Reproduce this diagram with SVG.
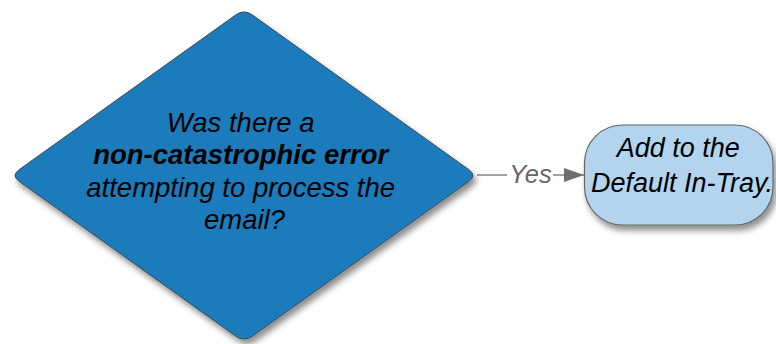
<svg xmlns="http://www.w3.org/2000/svg" width="776" height="344" viewBox="0 0 776 344">
  <style>
    .lbl { font-family: "Liberation Sans", Arial, sans-serif; font-style: italic; fill: #000; text-anchor: middle; }
    .b { font-weight: bold; }
    .edge { stroke: #6e6e6e; stroke-width: 1.3; fill: none; }
    .elbl { font-family: "Liberation Sans", Arial, sans-serif; font-style: italic; fill: #666; font-size: 25.5px; text-anchor: middle; }
  </style>
  <defs>
    <filter id="sh" x="-10%" y="-10%" width="130%" height="130%">
      <feDropShadow dx="3" dy="5" stdDeviation="3" flood-color="#000" flood-opacity="0.45"/>
    </filter>
    <marker id="arr" markerWidth="20" markerHeight="14" refX="20" refY="7" orient="auto" markerUnits="userSpaceOnUse">
      <path d="M0,0 L20,7 L0,14 Z" fill="#6e6e6e"/>
    </marker>
  </defs>
  <rect width="776" height="344" fill="#fff"/>
  <g id="connectors">
    <line class="edge" x1="477" y1="175" x2="507" y2="175"/>
    <line class="edge" x1="553" y1="175" x2="584" y2="175" marker-end="url(#arr)"/>
    <text class="elbl" x="530.5" y="183">Yes</text>
  </g>
  <g id="decision">
    <path d="M 235.87,14.83 Q 244,9 252.13,14.83 L 468.87,169.67 Q 477,175.5 468.87,181.33 L 252.13,336.17 Q 244,342 235.87,336.17 L 19.13,181.33 Q 11,175.5 19.13,169.67 Z" fill="#1a7bbb" stroke="#3a4a58" stroke-width="1" filter="url(#sh)"/>
    <text class="lbl" font-size="27.5">
      <tspan x="244.5" y="131.5">Was there a</tspan>
      <tspan x="244.5" y="164" class="b">non-catastrophic error</tspan>
      <tspan x="244.5" y="196.5">attempting to process the</tspan>
      <tspan x="244.5" y="229">email?</tspan>
    </text>
  </g>
  <g id="action">
    <rect x="584.5" y="125" width="188.5" height="100" rx="38" ry="38" fill="#b3d4ee" stroke="#666" stroke-width="1.2" filter="url(#sh)"/>
    <text class="lbl" font-size="27">
      <tspan x="682" y="157">Add to the</tspan>
      <tspan x="682" y="192">Default In-Tray.</tspan>
    </text>
  </g>
</svg>
